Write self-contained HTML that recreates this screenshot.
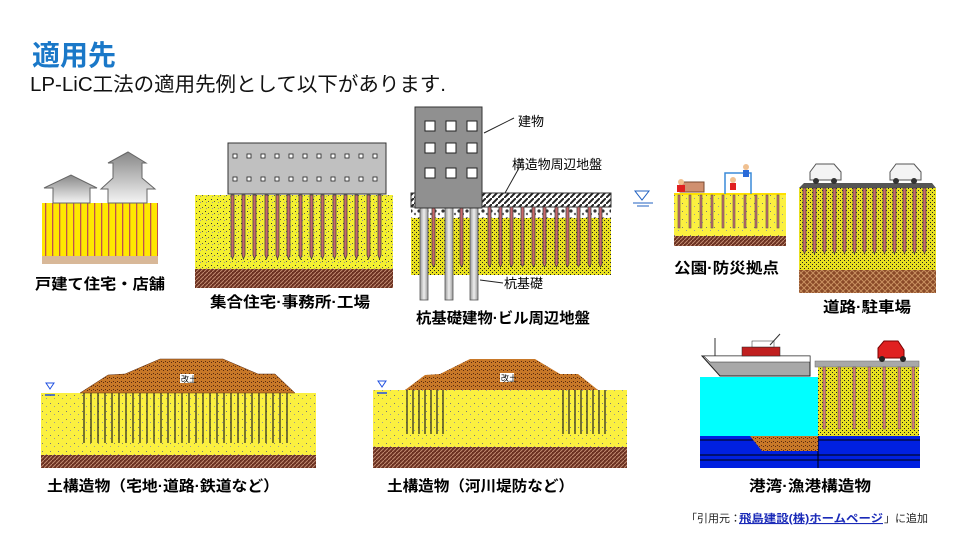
<!DOCTYPE html>
<html><head><meta charset="utf-8"><style>
html,body{margin:0;padding:0;background:#fff;width:960px;height:540px;overflow:hidden}
svg{display:block}
text{font-family:"Liberation Sans","Noto Sans CJK JP",sans-serif}
</style></head><body>
<svg width="960" height="540" viewBox="0 0 960 540" xmlns="http://www.w3.org/2000/svg">
<defs>
<pattern id="sand" width="6" height="6" patternUnits="userSpaceOnUse">
<rect width="6" height="6" fill="#f4f030"/><rect x="1" y="1" width="1" height="1" fill="#333"/><rect x="4" y="3" width="1" height="1" fill="#555"/><rect x="2" y="4" width="1" height="1" fill="#999"/></pattern>
<pattern id="sandd" width="4" height="4" patternUnits="userSpaceOnUse">
<rect width="4" height="4" fill="#e8e020"/><rect x="0" y="0" width="1" height="1" fill="#222"/><rect x="2" y="2" width="1" height="1" fill="#222"/></pattern>
<pattern id="lsand" width="8" height="8" patternUnits="userSpaceOnUse">
<rect width="8" height="8" fill="#fbf040"/><rect x="2" y="3" width="1" height="1" fill="#777"/><rect x="6" y="6" width="1" height="1" fill="#999"/></pattern>
<pattern id="brown" width="4" height="4" patternUnits="userSpaceOnUse">
<rect width="4" height="4" fill="#6a3020"/><path d="M0 4L4 0" stroke="#c08a70" stroke-width="1"/></pattern>
<pattern id="brownx" width="6" height="6" patternUnits="userSpaceOnUse">
<rect width="6" height="6" fill="#8a4a28"/><path d="M0 6L6 0M0 0L6 6" stroke="#c89060" stroke-width="1"/></pattern>
<pattern id="mound" width="4" height="4" patternUnits="userSpaceOnUse">
<rect width="4" height="4" fill="#c87828"/><rect x="1" y="1" width="1" height="1" fill="#5a2a10"/><rect x="3" y="2" width="1" height="1" fill="#5a2a10"/></pattern>
<pattern id="hatch" width="6" height="6" patternUnits="userSpaceOnUse">
<rect width="6" height="6" fill="#fff"/><path d="M0 6L6 0" stroke="#222" stroke-width="2"/></pattern>
<pattern id="gravel" width="8" height="8" patternUnits="userSpaceOnUse">
<rect width="8" height="8" fill="#fff"/><circle cx="3" cy="3" r="1.6" fill="#333"/><circle cx="7" cy="6" r="1.2" fill="#666"/></pattern>
<pattern id="rs" width="7" height="6" patternUnits="userSpaceOnUse">
<rect width="7" height="6" fill="#ffe800"/><rect x="3" width="1.3" height="6" fill="#c05050"/></pattern>
<linearGradient id="hg" x1="0" y1="0" x2="0" y2="1"><stop offset="0" stop-color="#888"/><stop offset="1" stop-color="#f4f4f4"/></linearGradient>
<linearGradient id="pg" x1="0" y1="0" x2="1" y2="0"><stop offset="0" stop-color="#999"/><stop offset=".5" stop-color="#eee"/><stop offset="1" stop-color="#999"/></linearGradient>
</defs>

<text x="32" y="65" font-size="28" font-weight="bold" fill="#1a78c8">適用先</text>
<text x="30" y="91" font-size="20" fill="#111" textLength="416" lengthAdjust="spacingAndGlyphs">LP-LiC工法の適用先例として以下があります.</text>

<!-- Panel 1 houses -->
<rect x="42" y="203" width="116" height="55" fill="url(#rs)"/>
<rect x="42" y="256" width="116" height="8" fill="#d8b898"/>
<path d="M53 203V188H44L71 175L97 188H90V203Z" fill="url(#hg)" stroke="#666"/>
<path d="M108 203V189H101L113 178V163H108L128 152L146 163H142V178L155 189H147V203Z" fill="url(#hg)" stroke="#666"/>
<text x="35" y="289" font-size="15" font-weight="bold" textLength="130" lengthAdjust="spacingAndGlyphs">戸建て住宅・店舗</text>

<!-- Panel 2 apartment -->
<rect x="195" y="195" width="198" height="74" fill="url(#sand)"/>
<rect x="195" y="269" width="198" height="19" fill="url(#brown)"/>
<g fill="#c8686a" stroke="#444" stroke-width=".8">
<path d="M231 195h3v60l-1.5 4l-1.5-4z"/><path d="M242 195h3v60l-1.5 4l-1.5-4z"/><path d="M253 195h3v60l-1.5 4l-1.5-4z"/><path d="M265 195h3v60l-1.5 4l-1.5-4z"/><path d="M276 195h3v60l-1.5 4l-1.5-4z"/><path d="M287 195h3v60l-1.5 4l-1.5-4z"/><path d="M299 195h3v60l-1.5 4l-1.5-4z"/><path d="M310 195h3v60l-1.5 4l-1.5-4z"/><path d="M321 195h3v60l-1.5 4l-1.5-4z"/><path d="M333 195h3v60l-1.5 4l-1.5-4z"/><path d="M344 195h3v60l-1.5 4l-1.5-4z"/><path d="M355 195h3v60l-1.5 4l-1.5-4z"/><path d="M367 195h3v60l-1.5 4l-1.5-4z"/><path d="M378 195h3v60l-1.5 4l-1.5-4z"/></g>
<rect x="228" y="143" width="158" height="51" fill="#c0c0c0" stroke="#333"/>
<g fill="#fff" stroke="#222" stroke-width=".8">
<rect x="233" y="154" width="4" height="4"/><rect x="247" y="154" width="4" height="4"/><rect x="261" y="154" width="4" height="4"/><rect x="275" y="154" width="4" height="4"/><rect x="289" y="154" width="4" height="4"/><rect x="303" y="154" width="4" height="4"/><rect x="317" y="154" width="4" height="4"/><rect x="331" y="154" width="4" height="4"/><rect x="345" y="154" width="4" height="4"/><rect x="359" y="154" width="4" height="4"/><rect x="373" y="154" width="4" height="4"/>
<rect x="233" y="177" width="4" height="4"/><rect x="247" y="177" width="4" height="4"/><rect x="261" y="177" width="4" height="4"/><rect x="275" y="177" width="4" height="4"/><rect x="289" y="177" width="4" height="4"/><rect x="303" y="177" width="4" height="4"/><rect x="317" y="177" width="4" height="4"/><rect x="331" y="177" width="4" height="4"/><rect x="345" y="177" width="4" height="4"/><rect x="359" y="177" width="4" height="4"/><rect x="373" y="177" width="4" height="4"/></g>
<text x="210" y="307" font-size="15" font-weight="bold" textLength="160" lengthAdjust="spacingAndGlyphs">集合住宅·事務所·工場</text>

<!-- Panel 3 building -->
<rect x="411" y="207" width="200" height="68" fill="url(#sandd)"/>
<rect x="411" y="207" width="200" height="11" fill="url(#gravel)"/>
<rect x="411" y="193" width="200" height="14" fill="url(#hatch)" stroke="#333"/>
<g fill="#c8686a" stroke="#444" stroke-width=".8">
<path d="M432 207h3v57l-1.5 3l-1.5-3z"/><path d="M460 207h3v57l-1.5 3l-1.5-3z"/><path d="M488 207h3v57l-1.5 3l-1.5-3z"/><path d="M499 207h3v57l-1.5 3l-1.5-3z"/><path d="M510 207h3v57l-1.5 3l-1.5-3z"/><path d="M521 207h3v57l-1.5 3l-1.5-3z"/><path d="M532 207h3v57l-1.5 3l-1.5-3z"/><path d="M543 207h3v57l-1.5 3l-1.5-3z"/><path d="M555 207h3v57l-1.5 3l-1.5-3z"/><path d="M566 207h3v57l-1.5 3l-1.5-3z"/><path d="M577 207h3v57l-1.5 3l-1.5-3z"/><path d="M588 207h3v57l-1.5 3l-1.5-3z"/><path d="M599 207h3v57l-1.5 3l-1.5-3z"/></g>
<g fill="url(#pg)" stroke="#555" stroke-width=".8"><rect x="420" y="207" width="8" height="93"/><rect x="445" y="207" width="8" height="93"/><rect x="470" y="207" width="8" height="93"/></g>
<rect x="415" y="107" width="67" height="101" fill="#909090" stroke="#333"/>
<g fill="#fff" stroke="#222"><rect x="425" y="121" width="10" height="10"/><rect x="446" y="121" width="10" height="10"/><rect x="467" y="121" width="10" height="10"/><rect x="425" y="143" width="10" height="10"/><rect x="446" y="143" width="10" height="10"/><rect x="467" y="143" width="10" height="10"/><rect x="425" y="168" width="10" height="10"/><rect x="446" y="168" width="10" height="10"/><rect x="467" y="168" width="10" height="10"/></g>
<g stroke="#222" fill="none"><path d="M514 118L484 133"/><path d="M519 168L505 193"/><path d="M503 283L480 280"/></g>
<text x="518" y="126" font-size="13">建物</text>
<text x="512" y="169" font-size="13" textLength="90" lengthAdjust="spacingAndGlyphs">構造物周辺地盤</text>
<text x="504" y="288" font-size="13">杭基礎</text>
<path d="M635 191h14l-7 9z" fill="none" stroke="#2060c0"/><path d="M633 203h20M637 206h12" stroke="#2060c0"/>
<text x="416" y="323" font-size="15" font-weight="bold" textLength="174" lengthAdjust="spacingAndGlyphs">杭基礎建物·ビル周辺地盤</text>

<!-- Panel 4 park -->
<rect x="674" y="194" width="112" height="42" fill="url(#lsand)"/>
<rect x="674" y="193" width="112" height="2" fill="#ffe000"/>
<rect x="674" y="236" width="112" height="10" fill="url(#brown)"/>
<g fill="#c86a6a" stroke="#555" stroke-width=".6"><rect x="678" y="195" width="2" height="33"/><rect x="689" y="195" width="2" height="33"/><rect x="700" y="195" width="2" height="33"/><rect x="711" y="195" width="2" height="33"/><rect x="722" y="195" width="2" height="33"/><rect x="733" y="195" width="2" height="33"/><rect x="744" y="195" width="2" height="33"/><rect x="755" y="195" width="2" height="33"/><rect x="766" y="195" width="2" height="33"/><rect x="777" y="195" width="2" height="33"/></g>
<rect x="680" y="182" width="24" height="10" fill="#d09070" stroke="#7a4a30"/>
<circle cx="681" cy="182" r="3" fill="#f0c090"/><rect x="677" y="185" width="8" height="7" fill="#e02020"/>
<path d="M725 194V173h26V194" fill="none" stroke="#3a8ad8" stroke-width="1.5"/>
<circle cx="746" cy="167" r="3" fill="#f0c090"/><rect x="743" y="170" width="6" height="7" fill="#2a6ad8"/>
<circle cx="733" cy="180" r="3" fill="#f0c090"/><rect x="730" y="183" width="6" height="7" fill="#e02020"/>
<text x="674" y="273" font-size="15" font-weight="bold" textLength="105" lengthAdjust="spacingAndGlyphs">公園·防災拠点</text>

<!-- Panel 5 road -->
<rect x="799" y="188" width="137" height="82" fill="url(#sandd)"/>
<rect x="799" y="270" width="137" height="23" fill="url(#brownx)"/>
<path d="M799 188L804 183H932L936 188Z" fill="#555"/>
<g fill="#c8686a" stroke="#444" stroke-width=".7">
<path d="M803 188h3v62l-1.5 4l-1.5-4z"/><path d="M813 188h3v62l-1.5 4l-1.5-4z"/><path d="M823 188h3v62l-1.5 4l-1.5-4z"/><path d="M833 188h3v62l-1.5 4l-1.5-4z"/><path d="M843 188h3v62l-1.5 4l-1.5-4z"/><path d="M853 188h3v62l-1.5 4l-1.5-4z"/><path d="M863 188h3v62l-1.5 4l-1.5-4z"/><path d="M873 188h3v62l-1.5 4l-1.5-4z"/><path d="M883 188h3v62l-1.5 4l-1.5-4z"/><path d="M893 188h3v62l-1.5 4l-1.5-4z"/><path d="M903 188h3v62l-1.5 4l-1.5-4z"/><path d="M913 188h3v62l-1.5 4l-1.5-4z"/><path d="M923 188h3v62l-1.5 4l-1.5-4z"/></g>
<g fill="#f4f4f4" stroke="#555"><path d="M810 180v-8l6-8h18l7 8v8z"/><path d="M890 180v-8l6-8h18l7 8v8z"/></g>
<g fill="#333"><circle cx="816" cy="181" r="3"/><circle cx="834" cy="181" r="3"/><circle cx="896" cy="181" r="3"/><circle cx="914" cy="181" r="3"/></g>
<text x="823" y="312" font-size="15" font-weight="bold" textLength="88" lengthAdjust="spacingAndGlyphs">道路·駐車場</text>

<!-- Bottom A -->
<rect x="41" y="393" width="275" height="62" fill="url(#lsand)"/>
<rect x="41" y="455" width="275" height="13" fill="url(#brown)"/>
<path d="M80 393L108 375L125 374L160 359H223L258 374L275 374L295 393Z" fill="url(#mound)" stroke="#5a2a10" stroke-width=".5"/>
<g stroke="#222" stroke-width="1.2">
<path d="M84 393v50M91 393v50M98 393v50M105 393v50M112 393v50M119 393v50M126 393v50M133 393v50M140 393v50M147 393v50M154 393v50M161 393v50M168 393v50M175 393v50M182 393v50M189 393v50M196 393v50M203 393v50M210 393v50M217 393v50M224 393v50M231 393v50M238 393v50M245 393v50M252 393v50M259 393v50M266 393v50M273 393v50M280 393v50M287 393v50"/></g>
<rect x="180" y="374" width="14" height="9" fill="#fff"/><text x="181" y="382" font-size="8">改土</text>
<path d="M46 383h8l-4 6z" fill="none" stroke="#2050e0"/><path d="M45 395h10" stroke="#2050e0" stroke-width="1.5"/>
<text x="47" y="491" font-size="15" font-weight="bold" textLength="232" lengthAdjust="spacingAndGlyphs">土構造物（宅地·道路·鉄道など）</text>

<!-- Bottom B -->
<rect x="373" y="390" width="254" height="57" fill="url(#lsand)"/>
<rect x="373" y="447" width="254" height="21" fill="url(#brown)"/>
<path d="M405 390L425 375L440 374L470 359H535L560 374L578 374L598 390Z" fill="url(#mound)"/>
<g stroke="#222" stroke-width="1.2"><path d="M407 390v44M413 390v44M419 390v44M425 390v44M431 390v44M437 390v44M443 390v44M563 390v44M569 390v44M575 390v44M581 390v44M587 390v44M593 390v44M599 390v44M605 390v44"/></g>
<rect x="500" y="373" width="14" height="9" fill="#fff"/><text x="501" y="381" font-size="8">改土</text>
<path d="M378 381h8l-4 6z" fill="none" stroke="#2050e0"/><path d="M377 393h10" stroke="#2050e0" stroke-width="1.5"/>
<text x="387" y="491" font-size="15" font-weight="bold" textLength="187" lengthAdjust="spacingAndGlyphs">土構造物（河川堤防など）</text>

<!-- Bottom C harbor -->
<rect x="700" y="377" width="118" height="59" fill="#00ffff"/>
<rect x="700" y="436" width="220" height="32" fill="#0020e0"/>
<g stroke="#000" stroke-width="1"><path d="M700 440h220M700 455h220M700 460h220M818 436v32"/></g>
<path d="M750 436H818V451H762Z" fill="url(#mound)"/>
<rect x="818" y="365" width="101" height="71" fill="url(#sandd)"/>
<rect x="815" y="361" width="104" height="6" fill="#a8a8a8" stroke="#666" stroke-width=".5"/>
<g fill="#d87a7a" stroke="#555" stroke-width=".5"><rect x="823" y="367" width="2.5" height="62"/><rect x="838" y="367" width="2.5" height="62"/><rect x="853" y="367" width="2.5" height="62"/><rect x="868" y="367" width="2.5" height="62"/><rect x="883" y="367" width="2.5" height="62"/><rect x="898" y="367" width="2.5" height="62"/><rect x="912" y="367" width="2.5" height="62"/></g>
<path d="M702 356H810V376H720Z" fill="#a8a8a8" stroke="#222"/>
<path d="M704 356H810V362H710Z" fill="#fff" stroke="#222" stroke-width=".5"/>
<rect x="742" y="347" width="38" height="9" fill="#c02020" stroke="#222" stroke-width=".5"/>
<rect x="752" y="341" width="22" height="6" fill="#fff" stroke="#222" stroke-width=".5"/>
<path d="M715 356V338M770 345L780 334" stroke="#333"/>
<path d="M878 358v-10l6-7h14l6 9v8z" fill="#e02020" stroke="#700"/>
<circle cx="882" cy="359" r="3" fill="#222"/><circle cx="903" cy="359" r="3" fill="#222"/>
<text x="749" y="491" font-size="15" font-weight="bold" textLength="122" lengthAdjust="spacingAndGlyphs">港湾·漁港構造物</text>

<text x="686" y="522" font-size="11" fill="#222">「引用元：</text>
<text x="739" y="522" font-size="11" font-weight="bold" fill="#1a2ab8" text-decoration="underline" textLength="144" lengthAdjust="spacingAndGlyphs">飛島建設(株)ホームページ</text>
<text x="884" y="522" font-size="11" fill="#222">」に追加</text>
</svg>
</body></html>
